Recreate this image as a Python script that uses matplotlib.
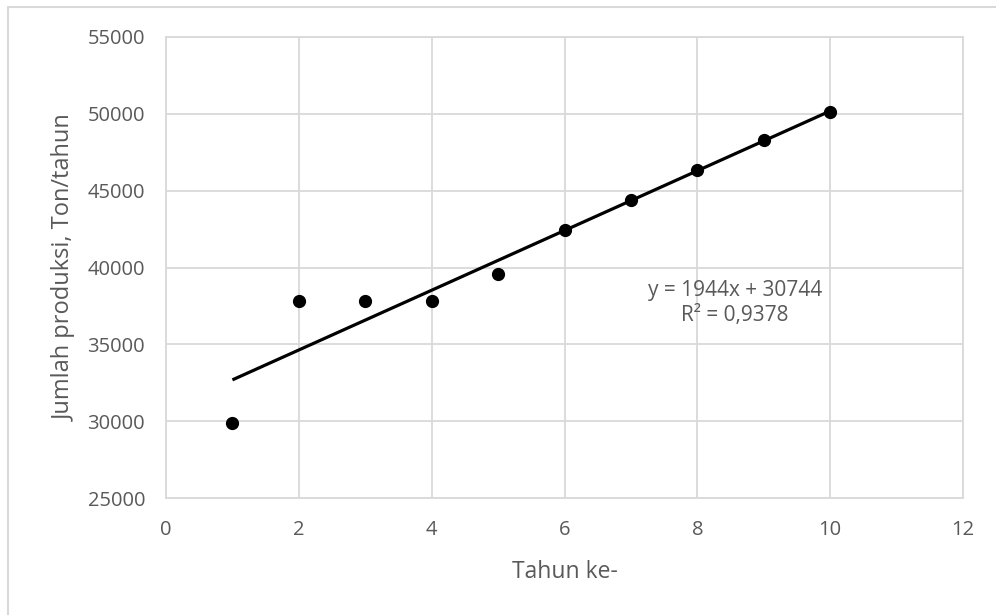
import numpy as np
import matplotlib
matplotlib.use("Agg")
import matplotlib.pyplot as plt
from matplotlib.patches import Rectangle

# data
tahun = [1, 2, 3, 4, 5, 6, 7, 8, 9, 10]
produksi = [29900, 37800, 37800, 37800, 39600, 42450, 44400, 46350, 48300, 50150]
slope, intercept = 1944, 30744
eq_text = "y = 1944x + 30744\nR² = 0,9378"

x_ticks = [0, 2, 4, 6, 8, 10, 12]
y_ticks = [25000, 30000, 35000, 40000, 45000, 50000, 55000]

grid_col = "#d9d9d9"
text_col = "#595959"

plt.rcParams['font.family'] = ['Open Sans', 'DejaVu Sans']

fig = plt.figure(figsize=(9.96, 6.15), dpi=100)
ax = fig.add_axes([166/996, 1 - 498/615, (963-166)/996, (498-37)/615])

# outer chart border (only top/left visible in the reference)
fig.patches.append(Rectangle((8/996, -0.05), 1.1, 1 - 7/615 + 0.05, transform=fig.transFigure,
	fill=False, edgecolor=grid_col, linewidth=1.5))

ax.set_xlim(0, 12)
ax.set_ylim(25000, 55000)
ax.set_xticks(x_ticks)
ax.set_yticks(y_ticks)
ax.grid(True, color=grid_col, linewidth=1.3)
ax.set_axisbelow(True)
for s in ax.spines.values():
	s.set_color(grid_col)
	s.set_linewidth(1.3)
ax.tick_params(length=0, labelsize=14.5, colors=text_col)
ax.tick_params(axis="x", pad=16)
ax.tick_params(axis="y", pad=15)

# trendline over the data range
xs = np.array([tahun[0], tahun[-1]])
ax.plot(xs, slope * xs + intercept, color="black", linewidth=2.3, solid_capstyle="butt")
ax.plot(tahun, produksi, "o", color="black", markersize=8.5, clip_on=False, zorder=3)

ax.text(8.57, 37690, eq_text, ha="center", va="center", fontsize=15, color=text_col, linespacing=1.3)

ax.set_xlabel("Tahun ke-", fontsize=16.5, color=text_col, labelpad=14)
ax.set_ylabel("Jumlah produksi, Ton/tahun", fontsize=17, color=text_col, labelpad=8)

fig.savefig("out.png", dpi=100)
